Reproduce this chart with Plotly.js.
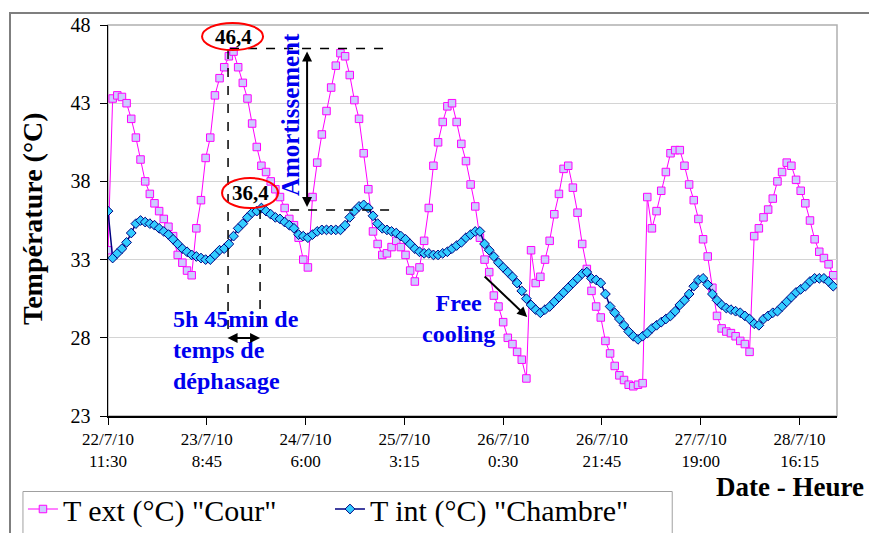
<!DOCTYPE html>
<html>
<head>
<meta charset="utf-8">
<script src="https://cdn.plot.ly/plotly-3.0.1.min.js"></script>
<style>
  html, body { margin: 0; padding: 0; background: #fff; }
  #chart { width: 869px; height: 533px; position: absolute; left: 0; top: 0; }
  #frame { position: absolute; left: 9px; top: 12px; width: 900px; height: 600px;
           border-top: 2px solid #7f7f7f; border-left: 2px solid #7f7f7f; pointer-events: none; }
</style>
</head>
<body>
<div id="chart"></div>
<div id="frame"></div>
<script>
// ---- Data (hourly readings starting 22/7/10 11:30) ----
const startTime = "2010-07-22T11:30:00Z";
const stepHours = 1;

const tExt = [33.6, 43.3, 43.5, 43.4, 43.0, 42.0, 40.8, 39.4, 38.0, 37.2,
 36.6, 36.1, 35.6, 35.1, 34.5, 33.3, 32.8, 32.3, 32.0, 35.0,
 36.8, 39.5, 40.8, 43.5, 44.6, 45.3, 46.0, 46.3, 45.3, 44.3,
 43.3, 41.7, 40.2, 39.0, 38.6, 38.0, 37.5, 37.0, 36.3, 35.6,
 35.2, 34.4, 33.0, 32.5, 37.0, 39.2, 41.0, 42.5, 44.0, 45.4,
 46.2, 46.0, 44.8, 43.2, 42.0, 39.8, 37.5, 34.8, 34.0, 33.3,
 33.4, 33.8, 34.2, 33.8, 33.3, 32.3, 31.6, 32.5, 34.2, 36.3,
 39.0, 40.5, 41.8, 42.8, 43.0, 41.8, 40.4, 39.3, 37.8, 36.4,
 34.4, 33.0, 32.2, 30.7, 30.0, 29.0, 28.0, 27.6, 27.1, 26.6,
 25.4, 33.6, 31.5, 31.9, 33.0, 34.2, 35.9, 37.2, 38.8, 39.0,
 37.6, 36.0, 34.0, 32.4, 31.0, 30.0, 29.3, 27.8, 27.0, 26.2,
 25.6, 25.3, 25.0, 24.9, 25.0, 25.1, 37.0, 35.0, 36.1, 37.4,
 38.6, 39.8, 40.0, 40.0, 39.0, 37.8, 36.8, 35.6, 34.3, 33.2,
 31.2, 29.4, 28.6, 28.4, 28.3, 28.1, 27.8, 27.6, 27.1, 34.5,
 35.0, 35.7, 36.2, 36.9, 38.0, 38.6, 39.2, 39.0, 38.1, 37.4,
 36.6, 35.5, 34.3, 33.5, 33.1, 32.7, 32.0];

const tInt = [36.1, 33.1, 33.4, 33.7, 34.1, 34.7, 35.3, 35.5, 35.4, 35.3,
 35.2, 35.0, 34.8, 34.6, 34.3, 34.0, 33.7, 33.5, 33.3, 33.2,
 33.1, 33.0, 33.0, 33.3, 33.6, 33.7, 34.0, 34.5, 35.0, 35.3,
 35.7, 36.0, 36.1, 36.3, 36.1, 35.9, 35.7, 35.6, 35.4, 35.2,
 35.0, 34.6, 34.5, 34.4, 34.6, 34.8, 34.9, 34.9, 34.9, 34.9,
 34.9, 35.2, 35.7, 36.1, 36.4, 36.5, 36.3, 35.8, 35.3, 35.0,
 34.9, 34.8, 34.7, 34.5, 34.3, 34.0, 33.7, 33.5, 33.4, 33.4,
 33.3, 33.3, 33.4, 33.5, 33.7, 33.9, 34.1, 34.4, 34.6, 34.8,
 34.8, 34.0, 33.6, 33.2, 32.8, 32.5, 32.2, 31.9, 31.5, 31.0,
 30.5, 30.1, 29.8, 29.6, 29.8, 30.0, 30.3, 30.6, 30.9, 31.2,
 31.5, 31.8, 32.1, 32.2, 31.8, 31.7, 31.5, 30.8, 30.0, 29.6,
 29.2, 28.8, 28.4, 28.1, 27.9, 28.1, 28.3, 28.6, 28.8, 29.0,
 29.2, 29.4, 29.7, 30.1, 30.4, 30.8, 31.3, 31.7, 31.8, 31.4,
 30.8, 30.4, 30.1, 29.9, 29.8, 29.7, 29.6, 29.4, 29.2, 28.9,
 28.8, 29.2, 29.4, 29.6, 29.7, 30.0, 30.3, 30.6, 30.9, 31.1,
 31.3, 31.6, 31.8, 31.8, 31.8, 31.6, 31.3];

const seriesNames = ['T ext (°C) "Cour"', 'T int (°C) "Chambre"'];
const tickLabels = ["22/7/10<br>11:30", "23/7/10<br>8:45", "24/7/10<br>6:00", "25/7/10<br>3:15",
                    "26/7/10<br>0:30", "26/7/10<br>21:45", "27/7/10<br>19:00", "28/7/10<br>16:15"];
const tickStepHours = 21.25;
const yTicks = [23, 28, 33, 38, 43, 48];

// ---- helpers ----
const t0 = Date.parse(startTime);
function fmt(h) { return new Date(t0 + h * 3600000).toISOString().slice(0, 19).replace('T', ' '); }
const xTimes = tExt.map((_, i) => fmt(i * stepHours));
const tickVals = tickLabels.map((_, i) => fmt(i * tickStepHours));

// pixel -> paper conversion for decorations
const PL = 108, PR = 836.7, PT = 25, PB = 416;
const px = x => (x - PL) / (PR - PL);
const py = y => (PB - y) / (PB - PT);

const serif = "'Liberation Serif', 'Times New Roman', serif";
const blueTxt = "#0000ee";

const traces = [
  { x: xTimes, y: tExt, name: seriesNames[0], type: 'scatter', mode: 'lines+markers',
    line: { color: '#ff00ff', width: 1 },
    marker: { symbol: 'square', size: 7.5, color: '#ccccff', line: { color: '#ff00ff', width: 1 } } },
  { x: xTimes, y: tInt, name: seriesNames[1], type: 'scatter', mode: 'lines+markers',
    line: { color: '#000080', width: 1.5 },
    marker: { symbol: 'diamond', size: 7.5, color: '#33ccff', line: { color: '#000080', width: 1 } } }
];

const dash = { color: 'black', width: 1.5, dash: 'dash' };
const layout = {
  width: 869, height: 533,
  margin: { l: PL, r: 869 - PR, t: PT, b: 533 - PB, autoexpand: false },
  paper_bgcolor: 'white', plot_bgcolor: 'white',
  font: { family: serif, color: 'black' },
  showlegend: true,
  legend: { orientation: 'h', x: px(23), y: py(483), xanchor: 'left', yanchor: 'top',
            font: { family: serif, size: 30, color: 'black' },
            borderwidth: 0, bgcolor: 'rgba(0,0,0,0)',
            entrywidth: 262, itemwidth: 30 },
  xaxis: { type: 'date', range: [fmt(0), fmt((PR - PL) / 4.647)], automargin: false,
           tickmode: 'array', tickvals: tickVals, ticktext: tickLabels,
           showgrid: false, showline: true, linecolor: 'black', linewidth: 1.5,
           ticks: 'outside', ticklen: 7, tickcolor: 'black', tickwidth: 1,
           tickfont: { family: serif, size: 17, color: 'black' }, zeroline: false },
  yaxis: { range: [23, 48], tickmode: 'array', tickvals: yTicks, automargin: false,
           showgrid: true, gridcolor: '#d4d4d4', gridwidth: 1,
           showline: true, linecolor: 'black', linewidth: 1.5,
           ticks: 'outside', ticklen: 7, tickcolor: 'black', ticklabelstandoff: 5,
           tickfont: { family: serif, size: 20, color: 'black' }, zeroline: false },
  shapes: [
    { type: 'rect', xref: 'paper', yref: 'paper', x0: 0, x1: 1, y0: 0, y1: 1,
      line: { color: '#b0b0b0', width: 1.5 }, layer: 'below' },
    { type: 'rect', xref: 'paper', yref: 'paper', x0: px(23), x1: px(672), y0: py(491.5), y1: py(545),
      line: { color: '#a0a0a0', width: 1 }, layer: 'below' },
    { type: 'line', xref: 'paper', yref: 'paper', x0: px(230), x1: px(390), y0: py(48.5), y1: py(48.5), line: dash },
    { type: 'line', xref: 'paper', yref: 'paper', x0: px(228), x1: px(228), y0: py(50), y1: py(330), line: dash },
    { type: 'line', xref: 'paper', yref: 'paper', x0: px(260), x1: px(260), y0: py(210), y1: py(330), line: dash },
    { type: 'line', xref: 'paper', yref: 'paper', x0: px(290), x1: px(390), y0: py(210), y1: py(210), line: dash },
    { type: 'circle', xref: 'paper', yref: 'paper', x0: px(202), x1: px(263), y0: py(23), y1: py(50),
      line: { color: '#ff0000', width: 2 } },
    { type: 'circle', xref: 'paper', yref: 'paper', x0: px(222), x1: px(278), y0: py(178), y1: py(208),
      line: { color: '#ff0000', width: 2 } }
  ],
  annotations: [
    { text: '<b>Température (°C)</b>', xref: 'paper', yref: 'paper', x: px(33), y: py(218),
      textangle: -90, showarrow: false, xanchor: 'center', yanchor: 'middle',
      font: { family: serif, size: 28, color: 'black' } },
    { text: '<b>Date - Heure</b>', xref: 'paper', yref: 'paper', x: px(866), y: py(487),
      showarrow: false, xanchor: 'right', yanchor: 'middle',
      font: { family: serif, size: 27, color: 'black' } },
    { text: '<b>46,4</b>', xref: 'paper', yref: 'paper', x: px(233), y: py(37),
      showarrow: false, xanchor: 'center', yanchor: 'middle',
      font: { family: serif, size: 21, color: 'black' } },
    { text: '<b>36,4</b>', xref: 'paper', yref: 'paper', x: px(250), y: py(193),
      showarrow: false, xanchor: 'center', yanchor: 'middle',
      font: { family: serif, size: 21, color: 'black' } },
    { text: '<b>Amortissement</b>', xref: 'paper', yref: 'paper', x: px(291), y: py(115),
      textangle: -90, showarrow: false, xanchor: 'center', yanchor: 'middle',
      font: { family: serif, size: 25, color: blueTxt } },
    { text: '<b>5h 45min de<br>temps de<br>déphasage</b>', xref: 'paper', yref: 'paper',
      x: px(171), y: py(350), showarrow: false, xanchor: 'left', yanchor: 'middle', align: 'left',
      font: { family: serif, size: 24, color: blueTxt } },
    { text: '<b>Free<br>cooling</b>', xref: 'paper', yref: 'paper',
      x: px(458), y: py(318), showarrow: false, xanchor: 'center', yanchor: 'middle', align: 'center',
      font: { family: serif, size: 24, color: blueTxt } },
    { text: '', xref: 'paper', yref: 'paper', x: px(307), y: py(207), ax: 0, ay: -157,
      showarrow: true, arrowside: 'end+start', arrowhead: 2, arrowsize: 1, arrowwidth: 2,
      arrowcolor: 'black', standoff: 0, startstandoff: 0 },
    { text: '', xref: 'paper', yref: 'paper', x: px(260), y: py(338), ax: -34, ay: 0,
      showarrow: true, arrowside: 'end+start', arrowhead: 2, arrowsize: 1, arrowwidth: 2,
      arrowcolor: 'black', standoff: 0, startstandoff: 0 },
    { text: '', xref: 'paper', yref: 'paper', x: px(527), y: py(317), ax: -44, ay: -42,
      showarrow: true, arrowside: 'end', arrowhead: 2, arrowsize: 1, arrowwidth: 2,
      arrowcolor: 'black', standoff: 0 }
  ]
};

Plotly.newPlot('chart', traces, layout, { staticPlot: true, displayModeBar: false });
</script>
</body>
</html>
